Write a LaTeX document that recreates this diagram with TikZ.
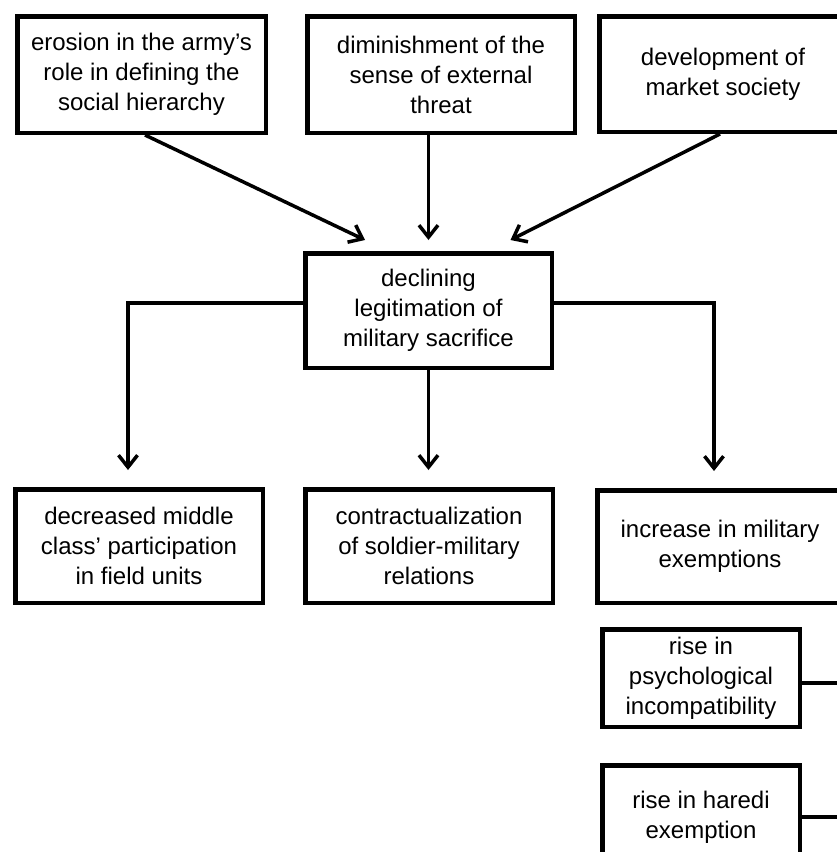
\documentclass[tikz,border=0pt]{standalone}
\usepackage{fontspec}
\setmainfont{Liberation Sans}
\usetikzlibrary{arrows.meta}
\begin{document}
\begin{tikzpicture}[x=1pt,y=-1pt,
  box/.style={draw, line width=4.5pt, align=center, inner sep=0pt,
    font=\fontsize{24}{30}\selectfont},
  conn/.style={line width=3.5pt},
  arr/.style={conn, -{Straight Barb[length=12pt,width=19pt]}}]
\useasboundingbox (0,0) rectangle (837,852);
\clip (0,0) rectangle (837,852);
% top row
\node[box, minimum width=248.5pt, minimum height=116.5pt] (erosion) at (141.5,74.5)
  {erosion in the army’s\\role in defining the\\social hierarchy};
\node[box, minimum width=267.5pt, minimum height=116.5pt] (dimin) at (441,74.5)
  {diminishment of the\\sense of external\\threat};
\node[box, minimum width=247.5pt, minimum height=115.5pt] (devel) at (723,74)
  {development of\\market society};
% centre
\node[box, minimum width=246.5pt, minimum height=114.5pt] (decl) at (428.5,310.5)
  {declining\\legitimation of\\military sacrifice};
% bottom row
\node[box, minimum width=247.5pt, minimum height=113.5pt] (middle) at (139,546)
  {decreased middle\\class’ participation\\in field units};
\node[box, minimum width=247.5pt, minimum height=113.5pt] (contr) at (429,546)
  {contractualization\\of soldier-military\\relations};
\node[box, minimum width=245.5pt, minimum height=112.5pt] (incr) at (720,546.5)
  {increase in military\\exemptions};
\node[box, minimum width=197.5pt, minimum height=97.5pt] (psych) at (701,678)
  {rise in\\psychological\\incompatibility};
\node[box, minimum width=197.5pt, minimum height=103.5pt] (haredi) at (701,817)
  {rise in haredi\\exemption};
% free ends
\coordinate (psychend) at (850,683);
\coordinate (harediend) at (850,817);
% arrows into centre
\draw[arr] ([xshift=3.5pt]erosion.south) -- ([xshift=-63.5pt,yshift=11pt]decl.north);
\draw[arr] (decl.north |- dimin.south) -- ([yshift=11pt]decl.north);
\draw[arr] ([xshift=-3pt]devel.south) -- ([xshift=82pt,yshift=11pt]decl.north);
% arrows out of centre
\draw[arr] ([yshift=7.5pt]decl.west) -| ([xshift=-11pt,yshift=17pt]middle.north);
\draw[arr] (decl.south) -- ([yshift=17pt]decl.south |- contr.north);
\draw[arr] ([yshift=7.5pt]decl.east) -| ([xshift=-6pt,yshift=17pt]incr.north);
% lines to the right
\draw[conn] (psych.east |- psychend) -- (psychend);
\draw[conn] (haredi.east) -- (harediend);
\end{tikzpicture}
\end{document}
